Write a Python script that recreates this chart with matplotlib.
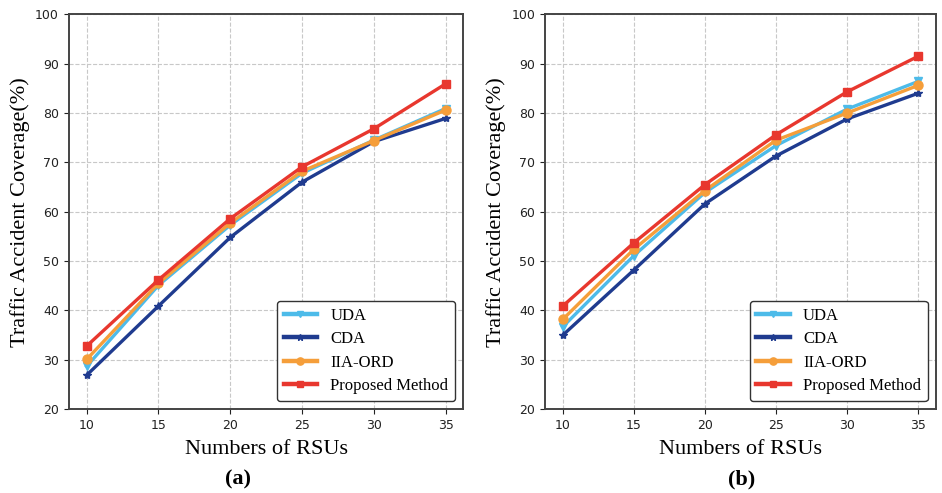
import matplotlib
matplotlib.use("Agg")
import matplotlib.pyplot as plt

rsus = [10, 15, 20, 25, 30, 35]
methods = ["UDA", "CDA", "IIA-ORD", "Proposed Method"]

# panel (a)
uda_a = [28.7, 45.1, 57.3, 67.8, 74.5, 80.9]
cda_a = [26.9, 40.9, 54.8, 66.0, 74.2, 78.9]
iia_a = [30.1, 45.5, 57.7, 68.2, 74.4, 80.6]
prop_a = [32.8, 46.2, 58.6, 69.1, 76.8, 85.9]

# panel (b)
uda_b = [36.7, 51.1, 63.9, 73.4, 80.8, 86.4]
cda_b = [35.0, 48.2, 61.6, 71.3, 78.8, 84.0]
iia_b = [38.2, 52.4, 64.3, 74.5, 80.0, 85.6]
prop_b = [40.9, 53.7, 65.5, 75.6, 84.3, 91.5]

colors = ["#4dbbe9", "#1f3b8f", "#f59e3a", "#e8372e"]
markers = ["v", "*", "o", "s"]
msizes = [6, 6, 6.5, 6]

serif = "Liberation Serif"

fig = plt.figure(figsize=(9.42, 4.93), dpi=100)
ax1 = fig.add_axes([0.073, 0.170, 0.419, 0.801])
ax2 = fig.add_axes([0.5786, 0.170, 0.415, 0.801])

for ax, series, cap, capx in [(ax1, [uda_a, cda_a, iia_a, prop_a], "(a)", 0.253),
                              (ax2, [uda_b, cda_b, iia_b, prop_b], "(b)", 0.787)]:
    for vals, name, c, m, ms in zip(series, methods, colors, markers, msizes):
        ax.plot(rsus, vals, color=c, marker=m, markersize=ms, lw=2.4, label=name)
    ax.set_ylim(20, 100)
    ax.set_xticks(rsus)
    ax.set_yticks(range(20, 101, 10))
    ax.grid(True, linestyle="--", color="#c8c8c8", lw=0.8)
    ax.tick_params(labelsize=9, colors="#222222", length=3.5)
    for s in ax.spines.values():
        s.set_color("#444444")
        s.set_linewidth(1.4)
    ax.set_xlabel("Numbers of RSUs", fontfamily=serif, fontsize=16, labelpad=6)
    ax.set_ylabel("Traffic Accident Coverage(%)", fontfamily=serif, fontsize=16, labelpad=4)
    leg = ax.legend(loc="lower right", prop={"family": serif, "size": 12},
                    handlelength=2.0, edgecolor="#333333", framealpha=1,
                    borderaxespad=0.5, labelspacing=0.45, markerscale=0.8)
    leg.get_frame().set_linewidth(1.0)
    for h in leg.get_lines():
        h.set_linewidth(3.2)
    fig.text(capx, 0.028, cap, ha="center", va="center", fontfamily=serif,
             fontweight="bold", fontsize=16)

fig.savefig("out.png", dpi=100)
